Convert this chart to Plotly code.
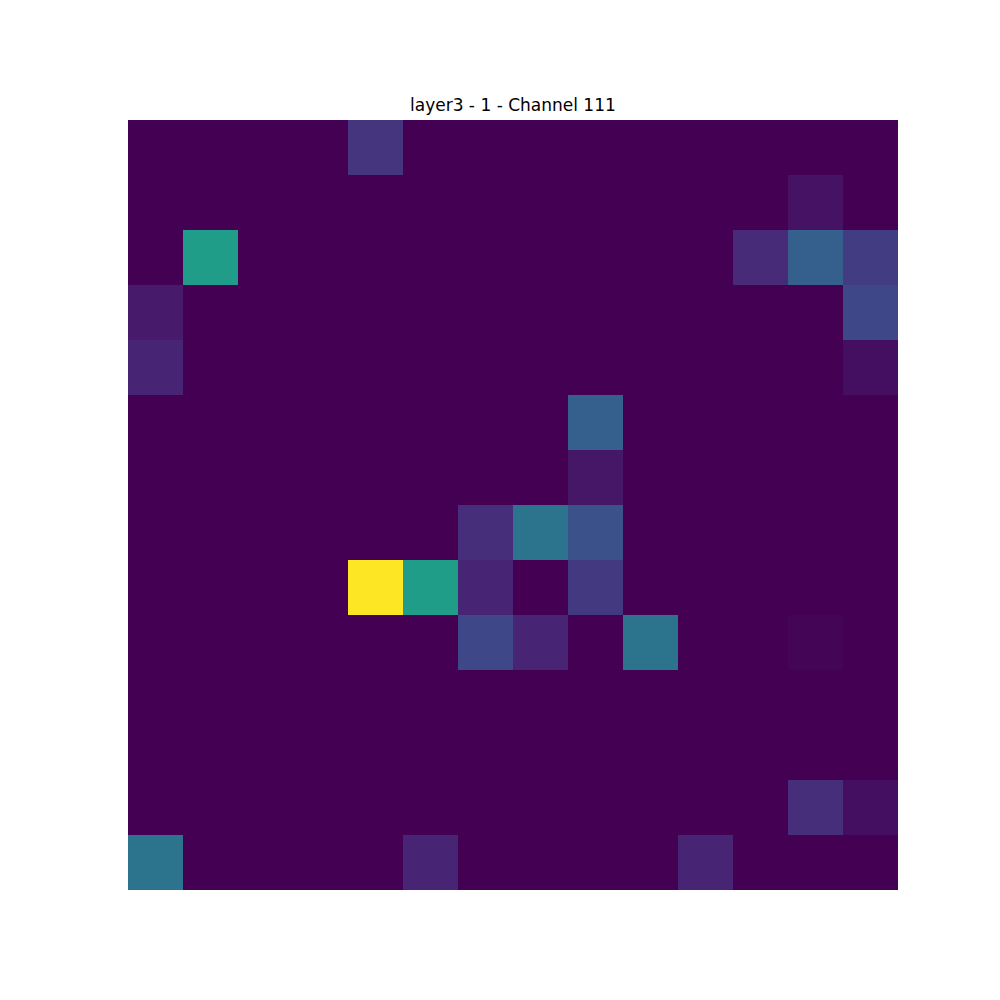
import plotly.graph_objects as go

title_text = "layer3 - 1 - Channel 111"
n_rows = 14
n_cols = 14

row00 = [0, 0, 0, 0, 0.15, 0, 0, 0, 0, 0, 0, 0, 0, 0]
row01 = [0, 0, 0, 0, 0, 0, 0, 0, 0, 0, 0, 0, 0.05, 0]
row02 = [0, 0.55, 0, 0, 0, 0, 0, 0, 0, 0, 0, 0.12, 0.30, 0.18]
row03 = [0.07, 0, 0, 0, 0, 0, 0, 0, 0, 0, 0, 0, 0, 0.22]
row04 = [0.10, 0, 0, 0, 0, 0, 0, 0, 0, 0, 0, 0, 0, 0.04]
row05 = [0, 0, 0, 0, 0, 0, 0, 0, 0.30, 0, 0, 0, 0, 0]
row06 = [0, 0, 0, 0, 0, 0, 0, 0, 0.06, 0, 0, 0, 0, 0]
row07 = [0, 0, 0, 0, 0, 0, 0.13, 0.38, 0.25, 0, 0, 0, 0, 0]
row08 = [0, 0, 0, 0, 1.0, 0.55, 0.10, 0, 0.17, 0, 0, 0, 0, 0]
row09 = [0, 0, 0, 0, 0, 0, 0.22, 0.10, 0, 0.38, 0, 0, 0.01, 0]
row10 = [0, 0, 0, 0, 0, 0, 0, 0, 0, 0, 0, 0, 0, 0]
row11 = [0, 0, 0, 0, 0, 0, 0, 0, 0, 0, 0, 0, 0, 0]
row12 = [0, 0, 0, 0, 0, 0, 0, 0, 0, 0, 0, 0, 0.13, 0.04]
row13 = [0.38, 0, 0, 0, 0, 0.10, 0, 0, 0, 0, 0.10, 0, 0, 0]

z = [row00, row01, row02, row03, row04, row05, row06,
     row07, row08, row09, row10, row11, row12, row13]

fig = go.Figure(go.Heatmap(
    z=z,
    x=list(range(n_cols)),
    y=list(range(n_rows)),
    colorscale="Viridis",
    zmin=0, zmax=1,
    showscale=False,
    hoverinfo="z",
))

fig.update_layout(
    width=1000, height=1000,
    margin=dict(l=120, r=110, t=112, b=118),
    paper_bgcolor="white",
    plot_bgcolor="white",
    font=dict(family="DejaVu Sans", color="black"),
    annotations=[dict(
        text=title_text, x=0.5, y=1, xref="paper", yref="paper",
        xanchor="center", yanchor="bottom", yshift=3,
        showarrow=False, font=dict(size=17, family="DejaVu Sans", color="black"),
    )],
)
fig.update_xaxes(visible=False, range=[-0.5, n_cols - 0.5], constrain="domain")
fig.update_yaxes(visible=False, range=[n_rows - 0.5, -0.5])

fig.write_html("out.html")
